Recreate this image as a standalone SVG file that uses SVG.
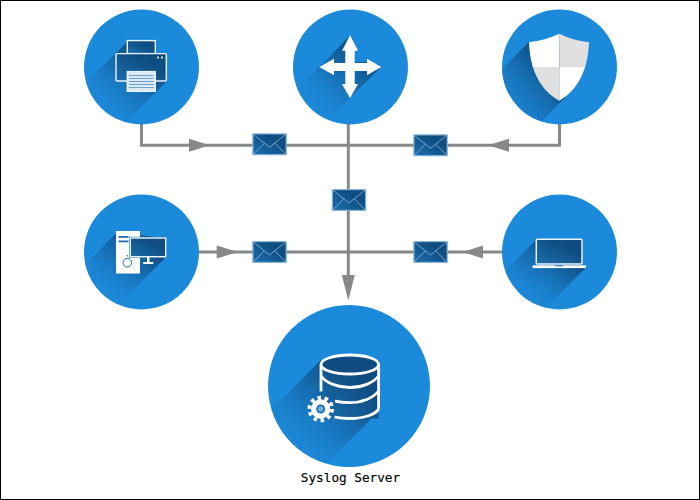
<svg xmlns="http://www.w3.org/2000/svg" width="700" height="500" viewBox="0 0 700 500">
<style>
.disc{fill:#1c8adb}
.shadow{fill:url(#shade)}
.ln{fill:none;stroke:#888;stroke-width:3}
.head{fill:#888}
.panel{fill:url(#panel);stroke:#eaf3fa;stroke-width:1.4}
.w{fill:#fff}
.ws{fill:none;stroke:#fff;stroke-width:2.8}
.lab{font-family:"DejaVu Sans Mono","Liberation Mono",monospace;font-size:12.7px;fill:#000;stroke:#000;stroke-width:0.15}
</style>
<defs>
<linearGradient id="shade" x1="1" y1="0" x2="0" y2="1">
<stop offset="0.2" stop-color="#0f4c7f"/>
<stop offset="0.85" stop-color="#1c8adb" stop-opacity="0"/>
</linearGradient>
<linearGradient id="panel" x1="0" y1="1" x2="1" y2="0">
<stop offset="0" stop-color="#1a6fb0"/>
<stop offset="0.7" stop-color="#0f4c7f"/>
</linearGradient>
<clipPath id="c1"><circle cx="141.5" cy="67" r="57.5"/></clipPath>
<clipPath id="c2"><circle cx="350.5" cy="67" r="57.5"/></clipPath>
<clipPath id="c3"><circle cx="559.5" cy="67" r="57.5"/></clipPath>
<clipPath id="c4"><circle cx="141.5" cy="252" r="57.5"/></clipPath>
<clipPath id="c5"><circle cx="559.5" cy="252" r="57.5"/></clipPath>
<clipPath id="c6"><circle cx="349" cy="386" r="81"/></clipPath>
<clipPath id="sh"><path d="M559.3 33.7C550 38 540 41 529 42.3C530 70 540 90 559.3 100.7C578 90 588 70 589 42.3C578 41 568 38 559.3 33.7Z"/></clipPath>
<g id="env">
<rect x="0.6" y="0.6" width="33.3" height="20.8" fill="url(#panel)" stroke="#86b4d8" stroke-width="1.2"/>
<path d="M1 1L17.2 14L33.5 1M1 21L12 10M33.5 21L22.5 10" fill="none" stroke="#7fb0d8" stroke-width="0.9"/>
</g>
</defs>
<rect x="0" y="0" width="700" height="500" fill="#fff" stroke="#000" stroke-width="2"/>
<g id="connectors">
<path class="ln" d="M141.5 124V145.3H559.5V124"/>
<path class="ln" d="M348.3 124V285"/>
<path class="ln" d="M199 252H502"/>
<polygon class="head" points="189,138.8 210,145.3 189,151.8"/>
<polygon class="head" points="509,138.8 488,145.3 509,151.8"/>
<polygon class="head" points="216.7,245.5 238,252 216.7,258.5"/>
<polygon class="head" points="483,245.5 462.7,252 483,258.5"/>
<polygon class="head" points="341.8,275 354.8,275 348.3,300.5"/>
<use href="#env" x="252.3" y="133.3"/>
<use href="#env" x="413.3" y="134.3"/>
<use href="#env" x="331.8" y="189"/>
<use href="#env" x="252.3" y="241"/>
<use href="#env" x="413.3" y="241"/>
</g>
<g id="printer">
<circle class="disc" cx="141.5" cy="67" r="57.5"/>
<polygon class="shadow" clip-path="url(#c1)" points="127,42 155,42 155,54 166,54 166,82 124,124 70,124 70,98"/>
<rect class="panel" x="127.3" y="40.6" width="28" height="13"/>
<rect class="panel" x="116" y="53.6" width="50.3" height="27.4" rx="1"/>
<rect x="127.3" y="71.6" width="28" height="19.7" fill="#dbe9f4" stroke="#eaf3fa" stroke-width="1.4"/>
<path d="M129 75.5H153.6M129 78.5H153.6M129 81.5H153.6M129 84.5H153.6M129 87.5H153.6" stroke="#6fa3cf" stroke-width="1"/>
<circle class="w" cx="158" cy="57.4" r="1"/>
<circle class="w" cx="162" cy="57.4" r="1"/>
</g>
<g id="router">
<circle class="disc" cx="350.5" cy="67" r="57.5"/>
<polygon class="shadow" clip-path="url(#c2)" points="350,36 355,62 368,62 381,67 325,123 280,123 280,106"/>
<polygon class="w" points="350,35.3 358,50.7 354.7,50.7 354.7,63 367,63 367,58.8 381.3,67 367,75.2 367,71 354.7,71 354.7,84 358,84 350,98 342,84 345.3,84 345.3,71 334,71 334,75.2 319.3,67 334,58.8 334,63 345.3,63 345.3,50.7 342,50.7"/>
</g>
<g id="firewall">
<circle class="disc" cx="559.500" cy="67" r="57.500"/>
<polygon class="shadow" clip-path="url(#c3)" points="529,42 565,42 565,98 520,143 480,143 480,91"/>
<g clip-path="url(#sh)">
<rect x="525" y="30" width="34.300" height="37" fill="#fff"/>
<rect x="559.300" y="30" width="34" height="37" fill="#e0e0e0"/>
<rect x="525" y="67" width="34.300" height="37" fill="#e0e0e0"/>
<rect x="559.300" y="67" width="34" height="37" fill="#fff"/>
</g>
</g>
<g id="desktop">
<circle class="disc" cx="141.500" cy="252" r="57.500"/>
<polygon class="shadow" clip-path="url(#c4)" points="116.500,233 166,238 166,257 120,303 70,303 70,279.500"/>
<rect class="w" x="116" y="231" width="24" height="42.500"/>
<rect x="118.500" y="236" width="10" height="1.800" fill="#1a6fb0"/>
<rect x="118.500" y="240.500" width="10" height="1.800" fill="#1a6fb0"/>
<circle cx="127.300" cy="262.700" r="4.300" fill="none" stroke="#1a6fb0" stroke-width="1"/>
<circle cx="127.300" cy="255.700" r="0.800" fill="#1a6fb0"/>
<rect x="129" y="236.800" width="37.700" height="21" fill="#1a78c2"/>
<rect class="panel" x="130.300" y="238" width="35.400" height="18.700"/>
<rect class="w" x="147" y="257" width="2.500" height="5.500"/>
<rect class="w" x="143.300" y="262" width="10" height="2"/>
</g>
<g id="laptop">
<circle class="disc" cx="559.500" cy="252" r="57.500"/>
<polygon class="shadow" clip-path="url(#c5)" points="536,240 582,240 582,266 585.500,268 543,310.500 490,310.500 490,286"/>
<rect x="536.300" y="239.300" width="45.700" height="24.700" rx="1" fill="url(#panel)" stroke="#eaf3fa" stroke-width="1.500"/>
<rect class="w" x="532.700" y="265.300" width="53" height="2.800"/>
<rect x="555" y="265.300" width="8" height="1" fill="#1a6fb0"/>
</g>
<g id="syslog-server">
<circle class="disc" cx="349" cy="386" r="81"/>
<polygon class="shadow" clip-path="url(#c6)" points="321,360 379,360 379,411 320,470 250,470 250,431"/>
<path d="M321 364.500V418.500H378.600V364.500Z" fill="url(#panel)"/>
<ellipse cx="349.800" cy="364.500" rx="28.800" ry="9.500" fill="#0f4c7f" stroke="#fff" stroke-width="2.800"/>
<path class="ws" d="M321 364.500V391.500"/>
<path class="ws" d="M378.600 364.500V408C378 414 364 418.500 349.800 418.500C344 418.500 339 418 334.500 417"/>
<path class="ws" d="M321 376C326 383 338 387.500 349.800 387.500C362 387.500 373 383 378.600 376"/>
<path class="ws" d="M335 401.200C339.500 402.200 344.500 402.700 349.800 402.700C362 402.700 373 398 378.600 391"/>
<circle cx="320.700" cy="409" r="9.700" class="w"/>
<circle cx="320.700" cy="409" r="11.300" fill="none" stroke="#fff" stroke-width="4" stroke-dasharray="3.550 3.550"/>
<circle cx="320.700" cy="409" r="3.600" fill="#6fb0e0" stroke="#1a6fb0" stroke-width="1.800"/>
<text class="lab" x="350.500" y="481.700" text-anchor="middle">Syslog Server</text>
</g>
</svg>
